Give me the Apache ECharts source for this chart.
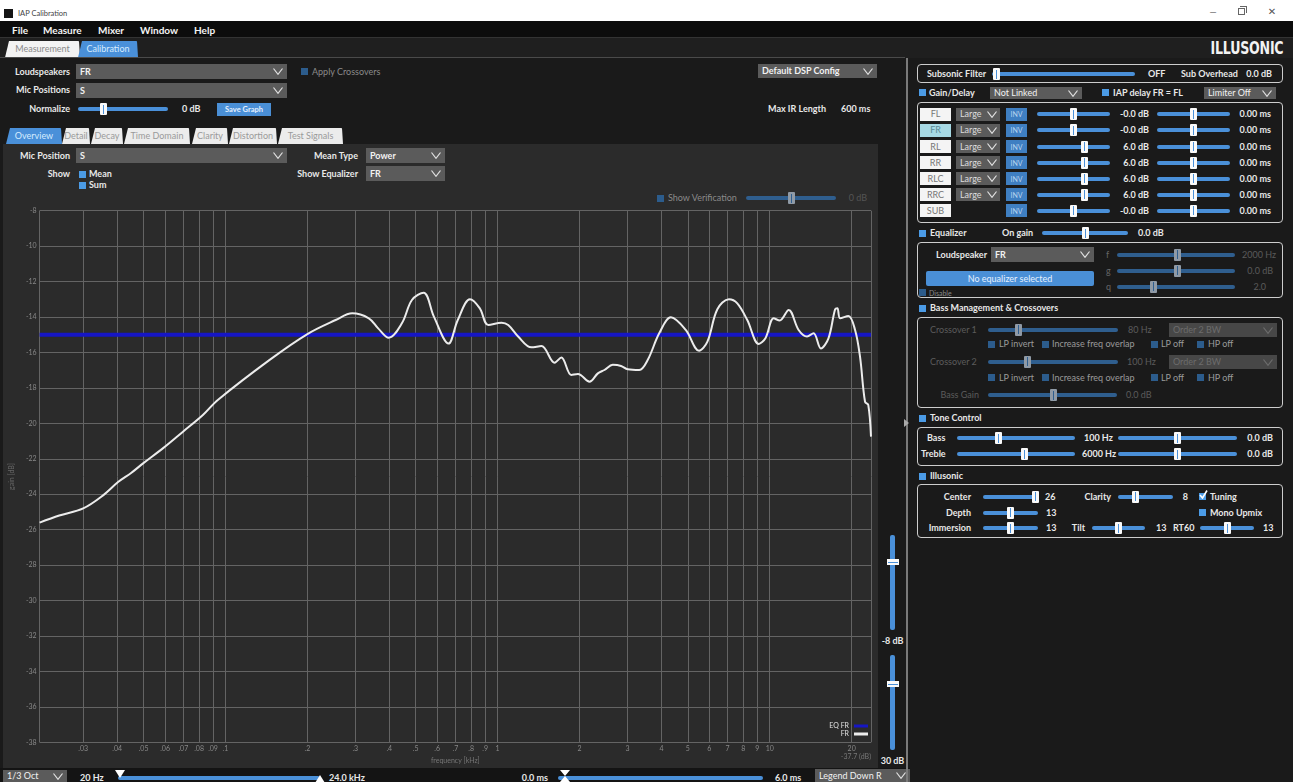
<!DOCTYPE html>
<html><head><meta charset="utf-8">
<script src="https://cdn.jsdelivr.net/npm/echarts@6/dist/echarts.min.js"></script>
<style>
html,body{margin:0;padding:0;}
body{width:1293px;height:782px;overflow:hidden;background:#1a1a1a;font-family:Lato,'Open Sans',sans-serif;font-size:9px;color:#e6e6e6;position:relative;}
.a{position:absolute;white-space:nowrap;box-sizing:border-box;}
#ui{position:absolute;left:0;top:0;width:1293px;height:782px;z-index:1;}
#chart{position:absolute;left:0;top:0;width:1293px;height:782px;z-index:5;}
</style></head><body>
<div id="ui"></div>
<div id="chart"></div>
<script>
// ---------------- chart data ----------------
const FREQ_KHZ = [0.02075,0.0245,0.0300,0.0356,0.0404,0.0450,0.0498,0.0590,0.0698,0.0826,0.0937,
  0.1449,0.2,0.254,0.2922,0.3364,0.364,0.3982,0.4454,0.4844,0.5349,0.5833,0.6601,0.7139,0.7917,0.8592,0.9248,
  1.034,1.094,1.190,1.331,1.449,1.621,1.715,1.865,1.974,2.177,2.336,2.470,2.650,2.843,3.008,3.317,3.560,3.926,
  4.333,4.914,5.499,5.903,6.421,7.079,7.600,8.269,9.116,9.645,10.34,10.88,11.74,12.77,13.71,14.49,15.42,16.44,
  17.39,17.73,18.14,19.46,20.59,21.47,22.40,23.02,23.56];
const GAIN_DB = [-25.6,-25.2,-24.8,-24.05,-23.3,-22.8,-22.26,-21.4,-20.47,-19.53,-18.68,
  -16.43,-14.96,-14.17,-13.79,-14.07,-14.64,-15.17,-14.34,-13.04,-12.63,-13.98,-15.5,-14.17,-13.0,-13.5,-14.45,
  -14.32,-14.45,-15.1,-15.71,-15.64,-16.58,-16.28,-17.27,-17.22,-17.65,-17.18,-16.99,-16.7,-16.76,-16.95,-16.99,-16.43,-14.92,
  -14.02,-14.73,-15.9,-15.39,-13.56,-13.0,-13.23,-14.17,-15.52,-15.2,-14.07,-14.2,-13.6,-14.73,-15.1,-14.92,-15.77,-15.2,
  -13.56,-13.5,-14.07,-13.94,-14.73,-16.24,-18.78,-18.96,-20.75];
const EQ_GAIN_DB = -15.0;
const F_MIN_KHZ = 0.02075, F_MAX_KHZ = 23.56;
const X_TICK_KHZ = [0.03,0.04,0.05,0.06,0.07,0.08,0.09,0.1,0.2,0.3,0.4,0.5,0.6,0.7,0.8,0.9,1,2,3,4,5,6,7,8,9,10,20];
const X_TICK_LABELS = ['.03','.04','.05','.06','.07','.08','.09','.1','.2','.3','.4','.5','.6','.7','.8','.9','1','2','3','4','5','6','7','8','9','10','20'];
const Y_MIN = -38, Y_MAX = -8, Y_STEP = 2;
const SERIES_NAMES = ['EQ FR','FR'];

// ---------------- UI helpers ----------------
const ui=document.getElementById('ui');
const BLUE='#4a90d9', DBLUE='#2f5e8e';
function el(css,html){const d=document.createElement('div');d.className='a';d.style.cssText=css;if(html!==undefined)d.innerHTML=html;ui.appendChild(d);return d;}
function R(x1,y1,x2,y2,bg,extra){return el(`left:${x1}px;top:${y1}px;width:${x2-x1}px;height:${y2-y1}px;background:${bg};${extra||''}`);}
function T(x,y,t,o){o=o||{};const al=o.al||'l';const sz=o.s||9;const c=o.c||'#e8e8e8';const w=(o.w===undefined)?700:o.w;
  let pos= al==='l'?`left:${x}px;`: al==='r'?`left:${x-400}px;width:400px;text-align:right;`:`left:${x-200}px;width:400px;text-align:center;`;
  return el(pos+`top:${y-8}px;height:16px;line-height:16px;font-size:${sz}px;color:${c};font-weight:${w};`+(o.x||''),t);}
function CHEV(x,y,c){return el(`left:${x-5}px;top:${y-3.5}px;width:10px;height:7px;`,`<svg width="10" height="7" style="display:block"><polyline points="0.5,0.5 5,6.3 9.5,0.5" fill="none" stroke="${c||'#e0e0e0'}" stroke-width="1.2"/></svg>`);}
function DD(x1,y1,x2,y2,t,o){o=o||{};R(x1,y1,x2,y2,o.bg||'#5b5b5b');T(x1+4,(y1+y2)/2,t,{c:o.c||'#f2f2f2',s:o.s||9,w:o.w});CHEV(x2-9,(y1+y2)/2,o.cc);}
function TH(x,y,dim){el(`left:${x-3.5}px;top:${y-6}px;width:7px;height:12px;background:${dim?'#8f9aa6':'#fafafa'};border-radius:1px;`,`<div style="position:absolute;left:3px;top:1.5px;width:1px;height:9px;background:${dim?DBLUE:BLUE}"></div>`);}
function SL(x1,x2,y,tx,dim){R(x1,y-2,x2,y+2,dim?DBLUE:BLUE,'border-radius:2px;');TH(tx,y,dim);}
function CB(x,y,o){o=o||{};const d=R(x-3.5,y-3.5,x+3.5,y+3.5,o.dim?'#2c5c8c':'#4b9be6');
  if(o.chk){d.innerHTML='<svg width="9" height="9" style="position:absolute;left:0;top:-3px"><polyline points="1,5 3.5,8 8,0.5" fill="none" stroke="#fff" stroke-width="1.6"/></svg>';}}
function BOX(x1,y1,x2,y2){el(`left:${x1}px;top:${y1}px;width:${x2-x1}px;height:${y2-y1}px;border:1.5px solid #cdcdcd;border-radius:4px;`);}
function TAB(x1,x2,y1,y2,t,bg,c){el(`left:${x1}px;top:${y1}px;width:${x2-x1}px;height:${y2-y1}px;background:${bg};clip-path:polygon(4px 0,calc(100% - 1px) 0,100% 100%,0 100%);border-radius:2px 2px 0 0;line-height:${y2-y1}px;text-align:center;color:${c};font-size:9px;`,t);}

// title bar
R(0,0,1293,21,'#ffffff');
R(4,9,13,18,'#151515');
T(18,14,'IAP Calibration',{c:'#444',s:7.5,w:400});
T(1213,12,'—',{al:'c',c:'#666',s:9,w:400});
el('left:1238px;top:8px;width:7px;height:7px;border:1px solid #666;');
el('left:1240px;top:6px;width:7px;height:7px;border-top:1px solid #666;border-right:1px solid #666;');
T(1272,12,'✕',{al:'c',c:'#555',s:10,w:400,x:'font-family:DejaVu Sans;'});
// menu
R(0,21,1293,37,'#0c0c0c');
[['File',12],['Measure',43],['Mixer',98],['Window',140],['Help',194]].forEach(m=>T(m[1],29.5,m[0],{s:10,c:'#f4f4f4'}));
R(0,37,1293,58,'#1f1f1f');
R(0,37,1293,38,'#333');
TAB(5,80,41,57.5,'Measurement','#f3f3f3','#8a8a8a');
TAB(78,138,41,57.5,'Calibration',BLUE,'#d6ecff');
R(0,57,905,58,'#4a4a4a');
T(1247,47.5,'ILLUSONIC',{al:'c',s:18,c:'#f2f2f2',x:'font-family:"DejaVu Sans Condensed","Liberation Sans Narrow",sans-serif;transform:scaleX(0.78);letter-spacing:-0.3px;'});

// top controls
T(70,71.5,'Loudspeakers',{al:'r'}); DD(76,64,287,79,'FR');
CB(304,71.5,{dim:true}); T(312,71.5,'Apply Crossovers',{c:'#8a8a8a',w:400});
T(70,90,'Mic Positions',{al:'r'}); DD(76,83,287,98,'S');
T(70,109,'Normalize',{al:'r'}); SL(78,168,109,103); T(182,109,'0 dB');
R(217,103,271,116,'#4a8fd6'); T(244,109.5,'Save Graph',{al:'c',s:7.5,c:'#e6f1ff'});
DD(758,64,877,78,'Default DSP Config');
T(768,109,'Max IR Length'); T(841,109,'600 ms');

// sub tabs
[['Overview',6,62],['Detail',62,90],['Decay',91,123],['Time Domain',124,190],['Clarity',192,228],['Distortion',229,277],['Test Signals',278,343]]
  .forEach((t,i)=>TAB(t[1],t[2],128,144,t[0],i===0?BLUE:'#ececec',i===0?'#d6ecff':'#9a9a9a'));

// chart panel
R(3,144,878,768,'#2b2b2b');
T(70,155.5,'Mic Position',{al:'r'}); DD(76,148,287,163,'S');
T(358,155.5,'Mean Type',{al:'r'}); DD(366,148,445,163,'Power');
T(70,174,'Show',{al:'r'}); CB(82.5,174); T(89,174,'Mean'); CB(82.5,185); T(89,185,'Sum');
T(358,174,'Show Equalizer',{al:'r'}); DD(366,166,445,181,'FR');
CB(660.5,198,{dim:true}); T(668,198,'Show Verification',{c:'#8a8a8a',w:400}); SL(746,836,198,791,true); T(867,198,'0 dB',{al:'r',c:'#555',w:400});

// bottom bar
R(0,768,910,782,'#141414');
DD(3,770,67,782,'1/3 Oct',{w:400});
T(80,778,'20 Hz');
R(118,776,320,780,BLUE,'border-radius:2px;');
el('left:115px;top:769px;width:10px;height:8px;',`<svg width="10" height="8"><polygon points="0,0 10,0 5,8" fill="#fff"/></svg>`);
el('left:315px;top:774px;width:10px;height:8px;',`<svg width="10" height="8"><polygon points="0,8 10,8 5,0" fill="#fff"/></svg>`);
T(329,778,'24.0 kHz');
T(548,778,'0.0 ms',{al:'r'});
R(558,776,763,780,BLUE,'border-radius:2px;');
el('left:560px;top:770px;width:10px;height:12px;',`<svg width="10" height="12"><polygon points="0,0 10,0 5,6 10,12 0,12 5,6" fill="#fff"/></svg>`);
T(775,778,'6.0 ms');
DD(815,769,910,782,'Legend Down R',{w:400});

// vertical sliders right of plot
R(890,535,895,630,BLUE,'border-radius:2px;');
el(`left:886.5px;top:559px;width:12px;height:6px;background:#fafafa;`,`<div style="position:absolute;left:1px;top:2.5px;width:10px;height:1px;background:${BLUE}"></div>`);
T(892.5,641,'-8 dB',{al:'c'});
R(890,655,895,750,BLUE,'border-radius:2px;');
el(`left:886.5px;top:681px;width:12px;height:6px;background:#fafafa;`,`<div style="position:absolute;left:1px;top:2.5px;width:10px;height:1px;background:${BLUE}"></div>`);
T(892.5,761,'30 dB',{al:'c'});

// divider
R(906,58,907.5,782,'#7a7a7a');
el('left:904px;top:418px;width:5px;height:8px;',`<svg width="5" height="8"><polygon points="0,0 5,4 0,8" fill="#aaa"/></svg>`);

// right panel
BOX(917,64,1283,83);
T(927,74,'Subsonic Filter'); SL(992,1135,74,996); T(1148,74,'OFF'); T(1181,74,'Sub Overhead'); T(1272,74,'0.0 dB',{al:'r'});
CB(922,92.7); T(929,92.7,'Gain/Delay'); DD(990,87,1082,99,'Not Linked',{w:400});
CB(1105.5,92.7); T(1113,92.7,'IAP delay FR = FL'); DD(1204,87,1276,99,'Limiter Off',{w:400});
BOX(917,102,1283,223);
[['FL',true,1073,'-0.0 dB'],['FR',true,1073,'-0.0 dB'],['RL',true,1084,'6.0 dB'],['RR',true,1084,'6.0 dB'],
 ['RLC',true,1084,'6.0 dB'],['RRC',true,1084,'6.0 dB'],['SUB',false,1073,'-0.0 dB']].forEach((r,i)=>{
  const c=114.3+i*16.1;
  R(920,c-6.5,951,c+6.5,r[0]==='FR'?'#a7d9e4':'#f4f4f4');
  T(935.5,c,r[0],{al:'c',c:r[0]==='FR'?'#5b8b96':'#777',w:400});
  if(r[1]){R(956,c-6.5,1000,c+6.5,'#5b5b5b');T(960,c,'Large',{c:'#ddd',w:400});CHEV(992,c);}
  R(1006,c-6.5,1027,c+6.5,'#3f7fc2'); T(1016.5,c,'INV',{al:'c',c:'#b9d4ef',s:7,w:400});
  SL(1037,1110,c,r[2]); T(1149,c,r[3],{al:'r'});
  SL(1157,1230,c,1193); T(1271,c,'0.00 ms',{al:'r'});
});
CB(922,233.3); T(930,233.3,'Equalizer'); T(1002,233.3,'On gain'); SL(1042,1128,233.3,1085); T(1138,233.3,'0.0 dB');
BOX(917,242,1283,298);
T(987,254.7,'Loudspeaker',{al:'r'}); DD(991,247,1094,262,'FR');
R(926,271,1094,286,'#4a8fd6','border-radius:2px;'); T(1010,278.5,'No equalizer selected',{al:'c',c:'#e6f1ff',w:400});
CB(922.5,292,{dim:true}); T(929,292.5,'Disable',{s:7,c:'#8a8a8a',w:400});
T(1106,254.7,'f',{c:'#666',w:400}); SL(1117,1235,254.7,1177,true); T(1276,254.7,'2000 Hz',{al:'r',c:'#5a5a5a',w:400});
T(1106,270.7,'g',{c:'#666',w:400}); SL(1117,1235,270.7,1177,true); T(1273,270.7,'0.0 dB',{al:'r',c:'#5a5a5a',w:400});
T(1106,286.7,'q',{c:'#666',w:400}); SL(1117,1235,286.7,1153,true); T(1266,286.7,'2.0',{al:'r',c:'#5a5a5a',w:400});
CB(922,308.3); T(930,308.3,'Bass Management &amp; Crossovers');
BOX(917,317,1283,408);
const DIM='#5c5c5c';
T(930,329.7,'Crossover 1',{c:DIM,w:400}); SL(988,1118,329.7,1018,true); T(1128,329.7,'80 Hz',{c:DIM,w:400});
DD(1169,323,1277,337,'Order 2 BW',{bg:'#474747',c:'#6c6c6c',cc:'#6c6c6c',w:400});
[344.3,377.7].forEach(y=>{CB(991,y,{dim:true});T(999,y,'LP invert',{c:'#9a9a9a',w:400});CB(1045.5,y,{dim:true});T(1052,y,'Increase freq overlap',{c:'#9a9a9a',w:400});
  CB(1154,y,{dim:true});T(1161,y,'LP off',{c:'#9a9a9a',w:400});CB(1200.5,y,{dim:true});T(1208,y,'HP off',{c:'#9a9a9a',w:400});});
T(930,361.7,'Crossover 2',{c:DIM,w:400}); SL(988,1118,361.7,1027,true); T(1127,361.7,'100 Hz',{c:DIM,w:400});
DD(1169,355,1277,369,'Order 2 BW',{bg:'#474747',c:'#6c6c6c',cc:'#6c6c6c',w:400});
T(979,395,'Bass Gain',{al:'r',c:DIM,w:400}); SL(988,1117,395,1053,true); T(1126,395,'0.0 dB',{c:DIM,w:400});
CB(922,418.3); T(930,418.3,'Tone Control');
BOX(917,427,1283,466);
T(927,438.3,'Bass'); SL(957,1075,438.3,998); T(1084,438.3,'100 Hz'); SL(1118,1237,438.3,1177); T(1273,438.3,'0.0 dB',{al:'r'});
T(921,454.3,'Treble'); SL(957,1075,454.3,1024); T(1082,454.3,'6000 Hz'); SL(1118,1237,454.3,1177); T(1273,454.3,'0.0 dB',{al:'r'});
CB(922,476); T(930,476,'Illusonic');
BOX(917,484,1283,538);
T(971,496.7,'Center',{al:'r'}); SL(983,1038,496.7,1035); T(1045,496.7,'26');
T(1111,496.7,'Clarity',{al:'r'}); SL(1118,1173,496.7,1135); T(1188,496.7,'8',{al:'r'});
CB(1202.5,496.7,{chk:true}); T(1210,496.7,'Tuning');
T(971,512.7,'Depth',{al:'r'}); SL(983,1038,512.7,1010); T(1046,512.7,'13');
CB(1202.5,512.7); T(1210,512.7,'Mono Upmix');
T(971,528.3,'Immersion',{al:'r'}); SL(983,1038,528.3,1010); T(1046,528.3,'13');
T(1085,528.3,'Tilt',{al:'r'}); SL(1092,1145,528.3,1118); T(1156,528.3,'13');
T(1173,528.3,'RT60'); SL(1200,1254,528.3,1227); T(1263,528.3,'13');

// ---------------- chart ----------------
const L = v => Math.log10(v);
const xMin = L(F_MIN_KHZ), xMax = L(F_MAX_KHZ);
function xLabel(v){for(let i=0;i<X_TICK_KHZ.length;i++){if(Math.abs(L(X_TICK_KHZ[i])-v)<1e-6)return X_TICK_LABELS[i];}return '';}
const chart = echarts.init(document.getElementById('chart'), null, {renderer:'canvas'});
const GRID_COLOR = '#646464';
chart.setOption({
  backgroundColor:'transparent',
  animation:false,
  grid:{left:36, top:210.7, width:835, height:531.6, containLabel:false},
  xAxis:{type:'value', min:xMin, max:xMax,
    axisLine:{show:false}, 
    axisTick:{show:false, customValues:[xMin].concat(X_TICK_KHZ.map(L), [xMax])},
    splitLine:{show:true, lineStyle:{color:GRID_COLOR, width:1}},
    axisLabel:{customValues:X_TICK_KHZ.map(L), formatter:xLabel, color:'#888', fontSize:7, margin:3, fontFamily:'Lato'},
    name:'frequency [kHz]', nameLocation:'middle', nameGap:13, nameTextStyle:{color:'#767676', fontSize:7, fontFamily:'Lato'}},
  yAxis:{type:'value', min:Y_MIN, max:Y_MAX, interval:Y_STEP,
    axisLine:{show:true, lineStyle:{color:GRID_COLOR, width:1}}, axisTick:{show:false},
    splitLine:{show:true, lineStyle:{color:GRID_COLOR, width:1}},
    axisLabel:{color:'#888', fontSize:7, margin:3, fontFamily:'Lato'},
    name:'gain [dB]', nameLocation:'middle', nameGap:20, nameTextStyle:{color:'#666', fontSize:7, fontFamily:'Lato'}},
  legend:[
    {data:[SERIES_NAMES[0]], right:425, top:722.5, orient:'vertical', align:'right', icon:'rect', itemWidth:14, itemHeight:3, padding:0, selectedMode:false,
     textStyle:{color:'#e0e0e0', fontSize:7, fontFamily:'Lato', padding:[0,0,0,0]}, itemGap:0},
    {data:[SERIES_NAMES[1]], right:425, top:730.5, orient:'vertical', align:'right', icon:'rect', itemWidth:14, itemHeight:3, padding:0, selectedMode:false,
     textStyle:{color:'#e0e0e0', fontSize:7, fontFamily:'Lato', padding:[0,0,0,0]}, itemGap:0}
  ],
  graphic:[{type:'text', right:422, top:753, style:{text:'-37.7 (dB)', fill:'#777', font:'7px Lato'}}],
  series:[
    {name:SERIES_NAMES[0], type:'line', data:[[xMin,EQ_GAIN_DB],[xMax,EQ_GAIN_DB]], showSymbol:false, silent:true,
     lineStyle:{color:'#1616c4', width:4}, itemStyle:{color:'#1616c4'}},
    {name:SERIES_NAMES[1], type:'line', smooth:0.35, data:FREQ_KHZ.map((f,i)=>[L(f),GAIN_DB[i]]), showSymbol:false, silent:true,
     lineStyle:{color:'#ececec', width:2}, itemStyle:{color:'#ececec'}}
  ]
});
</script>
</body></html>
